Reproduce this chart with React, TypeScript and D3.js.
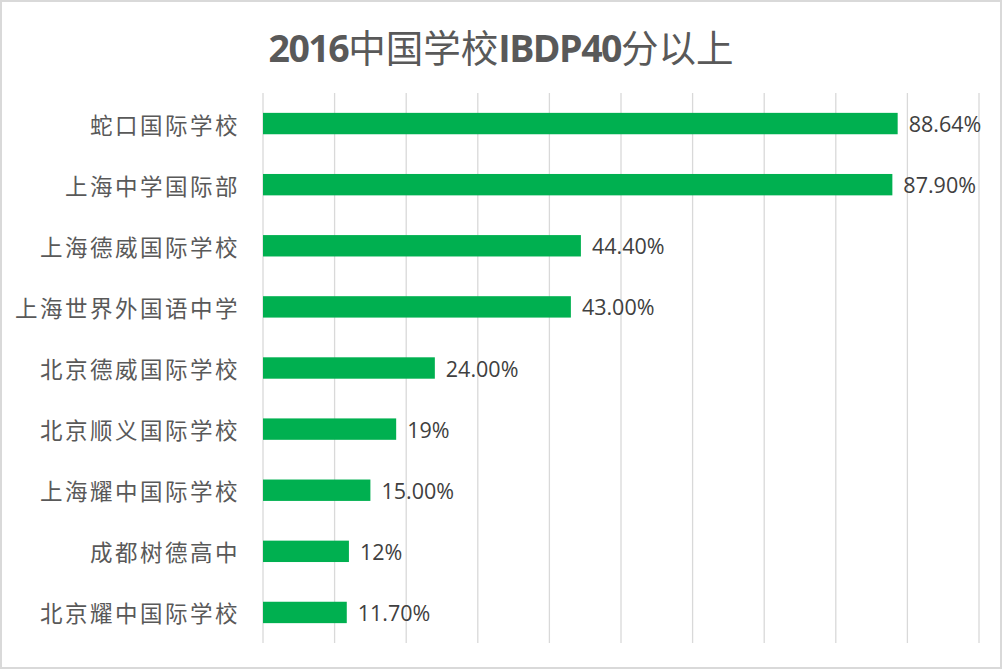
import React from "react";
import * as d3 from "d3";

const categories = [
  "蛇口国际学校",
  "上海中学国际部",
  "上海德威国际学校",
  "上海世界外国语中学",
  "北京德威国际学校",
  "北京顺义国际学校",
  "上海耀中国际学校",
  "成都树德高中",
  "北京耀中国际学校",
];
const values = [0.8864, 0.879, 0.444, 0.43, 0.24, 0.186, 0.15, 0.12, 0.117];
const valueLabels = ["88.64%", "87.90%", "44.40%", "43.00%", "24.00%", "19%", "15.00%", "12%", "11.70%"];
const xTicks = [0, 0.1, 0.2, 0.3, 0.4, 0.5, 0.6, 0.7, 0.8, 0.9, 1.0];
const titleParts: { text: string; latin: boolean }[] = [
  { text: "2016", latin: true },
  { text: "中国学校", latin: false },
  { text: "IBDP40", latin: true },
  { text: "分以上", latin: false },
];

const W = 1002;
const H = 669;
const plot = { left: 263, right: 979, top: 93, bottom: 643 };

export default function App() {
  const x = d3.scaleLinear().domain([0, 1]).range([plot.left, plot.right]);
  const y = d3
    .scaleBand<string>()
    .domain(categories)
    .range([plot.top, plot.bottom])
    .paddingInner(0.65)
    .paddingOuter(0.325);

  return (
    <svg
      width={W}
      height={H}
      style={{ position: "absolute", left: 0, top: 0, background: "#fff" }}
    >
      <rect x={1} y={1} width={W - 2} height={H - 2} fill="#fff" stroke="#D9D9D9" strokeWidth={2} />
      <text
        x={W / 2}
        y={62}
        textAnchor="middle"
        fill="#595959"
        fontSize={37.5}
      >
        {titleParts.map((p, i) => (
          <tspan
            key={i}
            fontFamily={p.latin ? "'Open Sans', 'Liberation Sans', sans-serif" : "'Noto Sans CJK SC', sans-serif"}
            fontWeight={p.latin ? 700 : 400}
            letterSpacing={p.latin ? -1.5 : 0}
          >
            {p.text}
          </tspan>
        ))}
      </text>
      {xTicks.map((t) => (
        <line
          key={t}
          x1={x(t)}
          x2={x(t)}
          y1={plot.top}
          y2={plot.bottom}
          stroke="#D9D9D9"
          strokeWidth={1.3}
        />
      ))}
      {categories.map((c, i) => (
        <g key={c}>
          <rect
            x={x(0)}
            y={y(c)!}
            width={x(values[i]) - x(0)}
            height={y.bandwidth()}
            fill="#00B050"
          />
          <text
            x={240}
            y={y(c)! + y.bandwidth() / 2}
            textAnchor="end"
            dominantBaseline="central"
            fill="#595959"
            fontSize={22.5}
            letterSpacing={2.5}
            fontFamily="'Noto Sans CJK SC', sans-serif"
          >
            {c}
          </text>
          <text
            x={x(values[i]) + 11}
            y={y(c)! + y.bandwidth() / 2}
            dominantBaseline="central"
            fill="#404040"
            fontSize={21.5}
            fontFamily="'Open Sans', sans-serif"
          >
            {valueLabels[i]}
          </text>
        </g>
      ))}
    </svg>
  );
}
